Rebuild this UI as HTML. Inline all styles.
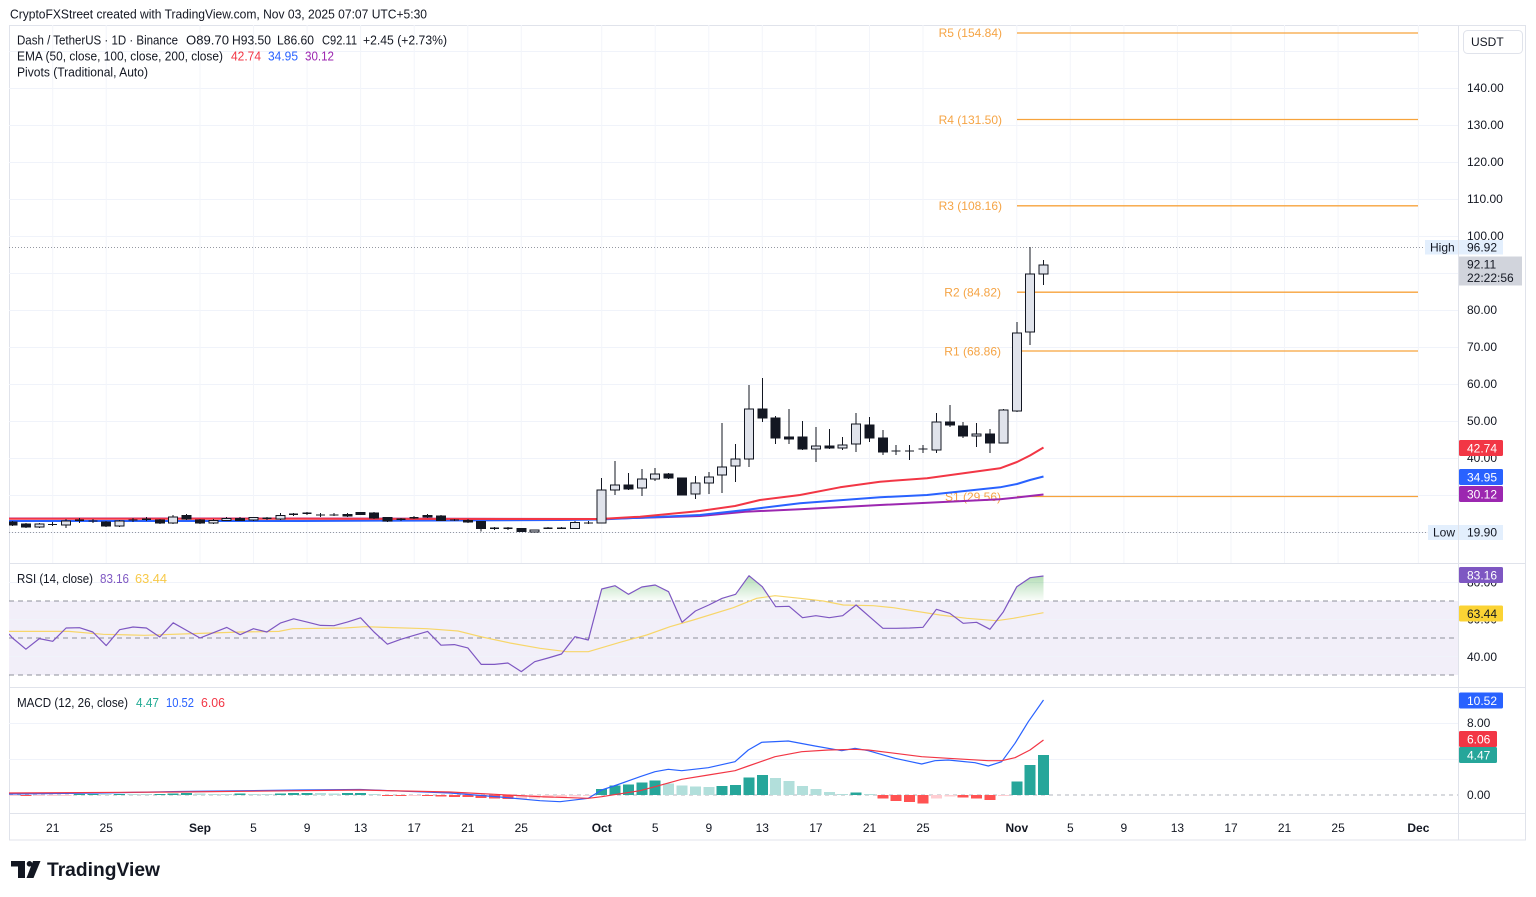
<!DOCTYPE html>
<html>
<head>
<meta charset="utf-8">
<style>
html,body{margin:0;padding:0;background:#fff;}
body{width:1536px;height:897px;overflow:hidden;}
svg{display:block;font-family:"Liberation Sans",Arial,sans-serif;}
.ax{font-size:12px;fill:#131722;}
.lg{font-size:12.5px;fill:#131722;}
</style>
</head>
<body>
<svg width="1536" height="897" viewBox="0 0 1536 897" xmlns="http://www.w3.org/2000/svg">
<defs>
  <clipPath id="cMain"><rect x="9" y="25" width="1449" height="538"/></clipPath>
  <clipPath id="cRsi"><rect x="9" y="564" width="1449" height="122"/></clipPath>
  <clipPath id="cRsiTop"><rect x="9" y="564" width="1449" height="37"/></clipPath>
  <clipPath id="cMacd"><rect x="9" y="688" width="1449" height="126"/></clipPath>
  <linearGradient id="gGreen" gradientUnits="userSpaceOnUse" x1="0" y1="574" x2="0" y2="601">
    <stop offset="0" stop-color="#4caf50" stop-opacity="0.45"/>
    <stop offset="1" stop-color="#4caf50" stop-opacity="0.02"/>
  </linearGradient>
</defs>

<!-- Title -->
<text x="10" y="18.5" font-size="13" fill="#131722" textLength="417" lengthAdjust="spacingAndGlyphs">CryptoFXStreet created with TradingView.com, Nov 03, 2025 07:07 UTC+5:30</text>

<!-- Frame -->
<rect x="9.5" y="25.5" width="1516" height="814.5" fill="#fff" stroke="#e0e3eb"/>

<!-- ================= MAIN PANE ================= -->
<g clip-path="url(#cMain)">
  <!-- horizontal grid -->
  <g stroke="#f0f3fa" stroke-width="1">
    <line x1="9" y1="51.5" x2="1458" y2="51.5"/>
    <line x1="9" y1="88.5" x2="1458" y2="88.5"/>
    <line x1="9" y1="125.5" x2="1458" y2="125.5"/>
    <line x1="9" y1="162.5" x2="1458" y2="162.5"/>
    <line x1="9" y1="199.5" x2="1458" y2="199.5"/>
    <line x1="9" y1="236.5" x2="1458" y2="236.5"/>
    <line x1="9" y1="273.5" x2="1458" y2="273.5"/>
    <line x1="9" y1="310.5" x2="1458" y2="310.5"/>
    <line x1="9" y1="347.5" x2="1458" y2="347.5"/>
    <line x1="9" y1="384.5" x2="1458" y2="384.5"/>
    <line x1="9" y1="421.5" x2="1458" y2="421.5"/>
    <line x1="9" y1="458.5" x2="1458" y2="458.5"/>
    <line x1="9" y1="495.5" x2="1458" y2="495.5"/>
    <line x1="9" y1="532.5" x2="1458" y2="532.5"/>
  </g>
  <!-- vertical grid -->
  <g stroke="#f3f5fa" stroke-width="1">
    <line x1="52.7" y1="25" x2="52.7" y2="563"/><line x1="106.2" y1="25" x2="106.2" y2="563"/>
    <line x1="200" y1="25" x2="200" y2="563"/><line x1="253.5" y1="25" x2="253.5" y2="563"/>
    <line x1="307.1" y1="25" x2="307.1" y2="563"/><line x1="360.6" y1="25" x2="360.6" y2="563"/>
    <line x1="414.2" y1="25" x2="414.2" y2="563"/><line x1="467.8" y1="25" x2="467.8" y2="563"/>
    <line x1="521.3" y1="25" x2="521.3" y2="563"/><line x1="601.7" y1="25" x2="601.7" y2="563"/>
    <line x1="655.2" y1="25" x2="655.2" y2="563"/><line x1="708.8" y1="25" x2="708.8" y2="563"/>
    <line x1="762.3" y1="25" x2="762.3" y2="563"/><line x1="815.9" y1="25" x2="815.9" y2="563"/>
    <line x1="869.5" y1="25" x2="869.5" y2="563"/><line x1="923" y1="25" x2="923" y2="563"/>
    <line x1="1016.8" y1="25" x2="1016.8" y2="563"/><line x1="1070.3" y1="25" x2="1070.3" y2="563"/>
    <line x1="1123.9" y1="25" x2="1123.9" y2="563"/><line x1="1177.4" y1="25" x2="1177.4" y2="563"/>
    <line x1="1231" y1="25" x2="1231" y2="563"/><line x1="1284.5" y1="25" x2="1284.5" y2="563"/>
    <line x1="1338.1" y1="25" x2="1338.1" y2="563"/><line x1="1418.4" y1="25" x2="1418.4" y2="563"/>
  </g>

  <!-- High / Low dotted lines -->
  <line x1="9" y1="247.5" x2="1425" y2="247.5" stroke="#9598a1" stroke-width="1" stroke-dasharray="1 2"/>
  <line x1="9" y1="532.5" x2="1428" y2="532.5" stroke="#9598a1" stroke-width="1" stroke-dasharray="1 2"/>

  <!-- Pivot lines -->
  <g stroke="#f7a33c" stroke-width="1.3">
    <line x1="1017" y1="33" x2="1418" y2="33"/>
    <line x1="1017" y1="119.5" x2="1418" y2="119.5"/>
    <line x1="1017" y1="205.8" x2="1418" y2="205.8"/>
    <line x1="1017" y1="292.2" x2="1418" y2="292.2"/>
    <line x1="1017" y1="351" x2="1418" y2="351"/>
    <line x1="1017" y1="496.5" x2="1418" y2="496.5"/>
  </g>
  <g font-size="12" fill="#f5a445" text-anchor="end">
    <text x="1002" y="37">R5 (154.84)</text>
    <text x="1002" y="124">R4 (131.50)</text>
    <text x="1002" y="210">R3 (108.16)</text>
    <text x="1001" y="296.5">R2 (84.82)</text>
    <text x="1001" y="355.5">R1 (68.86)</text>
    <text x="1001" y="501">S1 (29.56)</text>
  </g>

  <!-- EMA lines -->
  <polyline fill="none" stroke="#9c27b0" stroke-width="2" stroke-linejoin="round" points="9,518.5 300,518.5 600,519 700,516 745,511.7 800,509.3 880,505 1000,499.3 1017,497.5 1030,496 1043.5,494.5"/>
  <polyline fill="none" stroke="#2962ff" stroke-width="2" stroke-linejoin="round" points="9,521 300,521 560,520 600,519.5 640,517.7 700,515 745,510 800,503.3 880,497.3 927,495 1000,487.3 1017,484 1030,480 1043.5,476.5"/>
  <polyline fill="none" stroke="#f23645" stroke-width="2" stroke-linejoin="round" points="9,518.8 300,518.8 560,519 600,519 640,516.7 700,511 735,506 760,500 800,495 840,487.3 880,481.7 927,478.3 1000,468.3 1017,462 1030,455.5 1043.5,447.5"/>

  <!-- Candles -->
  <g shape-rendering="crispEdges">
    <path fill="none" stroke="#131722" stroke-width="1" d="M12.5 521V526M25.9 523V528M39.3 523V528M52.7 522V526M66.1 519V528M79.5 518V523M92.8 519V523M106.2 521V527M119.6 520V527M133 518V522M146.4 517V521M159.8 519V524M173.2 515V524M186.6 514V520M200 519V524M213.4 519V524M226.7 517V521M240.1 517V521M253.5 517V521M266.9 517V520M280.3 513V520M293.7 513V516M307.1 512V515M320.5 513V517M333.9 513V516M347.3 513V517M360.6 512V515M374 512V519M387.4 517V522M400.8 518V521M414.2 516V519M427.6 514V518M441 515V521M454.4 519V521M467.8 519V523M481.2 521V531.7M494.5 527V530M507.9 527V530M521.3 528V532M534.7 529.5V532.5M548.1 527V529M561.5 527V529M574.9 521V529M588.3 521V524M601.7 478V523M615.1 461V495M628.4 473V490M641.8 469V496M655.2 468V481M668.6 473V479M682 478V495M695.4 476V499M708.8 472V494M722.2 423V493M735.6 444V482M749 385V467M762.3 378V422M775.7 416V444M789.1 409V444M802.5 421V450M815.9 427V462M829.3 429V449M842.7 437V450M856.1 413V452M869.5 417V442M882.9 430V455M896.2 445V455M909.6 445V460M923 445V453M936.4 413V453M949.8 405V427M963.2 422V438M976.6 423V447M990 429V453M1003.4 409V443M1016.8 322V412M1030.1 247V345M1043.5 260V285"/>
    <!-- doji -->
    <path fill="none" stroke="#131722" stroke-width="1.2" d="M48.2 524.5H57.2M75 520.3H84M88.3 521H97.3M128.5 520H137.5M141.9 519.3H150.9M262.4 518.3H271.4M289.2 514.3H298.2M302.6 513.3H311.6M316 515H325M329.4 515H338.4M396.3 519.3H405.3M409.7 517.7H418.7M449.9 520H458.9M490 528.3H499M503.4 528.3H512.4M543.6 528.3H552.6M557 528.3H566M583.8 523H592.8M891.7 451H900.7M905.1 451H914.1M918.5 449H927.5"/>
    <!-- black bodies -->
    <g fill="#131722" stroke="#131722" stroke-width="1">
      <rect x="8" y="522" width="9" height="3"/>
      <rect x="21.4" y="524" width="9" height="3"/>
      <rect x="101.7" y="522" width="9" height="4"/>
      <rect x="155.3" y="520" width="9" height="3"/>
      <rect x="182.1" y="515.5" width="9" height="3.5"/>
      <rect x="195.5" y="520" width="9" height="3"/>
      <rect x="235.6" y="518.5" width="9" height="2"/>
      <rect x="342.8" y="514.3" width="9" height="1.7"/>
      <rect x="356.1" y="512.7" width="9" height="2"/>
      <rect x="369.5" y="513" width="9" height="5"/>
      <rect x="382.9" y="517.5" width="9" height="3.5"/>
      <rect x="423.1" y="515.3" width="9" height="1.7"/>
      <rect x="436.5" y="516" width="9" height="4.3"/>
      <rect x="463.3" y="520.3" width="9" height="1.7"/>
      <rect x="476.7" y="521.7" width="9" height="6.6"/>
      <rect x="516.8" y="528.7" width="9" height="3"/>
      <rect x="623.9" y="485" width="9" height="4"/>
      <rect x="664.1" y="474" width="9" height="4"/>
      <rect x="677.5" y="478" width="9" height="17"/>
      <rect x="757.8" y="409" width="9" height="9"/>
      <rect x="771.2" y="418" width="9" height="20"/>
      <rect x="784.6" y="437" width="9" height="2"/>
      <rect x="798" y="437" width="9" height="12"/>
      <rect x="824.8" y="446" width="9" height="2"/>
      <rect x="865" y="425" width="9" height="13"/>
      <rect x="878.4" y="438" width="9" height="14"/>
      <rect x="945.3" y="422" width="9" height="3"/>
      <rect x="958.7" y="426" width="9" height="10"/>
      <rect x="985.5" y="434" width="9" height="9"/>
    </g>
    <!-- white bodies -->
    <g fill="#e0e3eb" stroke="#131722" stroke-width="1">
      <rect x="34.8" y="524" width="9" height="3"/>
      <rect x="61.6" y="521" width="9" height="4"/>
      <rect x="115.1" y="521" width="9" height="5"/>
      <rect x="168.7" y="517" width="9" height="6"/>
      <rect x="208.9" y="520.5" width="9" height="2.5"/>
      <rect x="222.2" y="518.5" width="9" height="2"/>
      <rect x="249" y="517.7" width="9" height="2.3"/>
      <rect x="275.8" y="515.3" width="9" height="3.7"/>
      <rect x="530.2" y="530" width="9" height="2"/>
      <rect x="570.4" y="522.7" width="9" height="5.6"/>
      <rect x="597.2" y="490" width="9" height="33"/>
      <rect x="610.6" y="485" width="9" height="5"/>
      <rect x="637.3" y="479" width="9" height="9"/>
      <rect x="650.7" y="474" width="9" height="5"/>
      <rect x="690.9" y="483" width="9" height="11"/>
      <rect x="704.3" y="477" width="9" height="6"/>
      <rect x="717.7" y="467" width="9" height="8"/>
      <rect x="731.1" y="459" width="9" height="7"/>
      <rect x="744.5" y="409" width="9" height="50"/>
      <rect x="811.4" y="446" width="9" height="3"/>
      <rect x="838.2" y="445" width="9" height="3"/>
      <rect x="851.6" y="424" width="9" height="20"/>
      <rect x="931.9" y="422" width="9" height="28"/>
      <rect x="972.1" y="434" width="9" height="2"/>
      <rect x="998.9" y="410" width="9" height="33"/>
      <rect x="1012.3" y="333" width="9" height="78"/>
      <rect x="1025.6" y="274" width="9" height="58"/>
      <rect x="1039" y="265" width="9" height="9"/>
    </g>
  </g>
</g>

<!-- Legend main -->
<text class="lg" x="17" y="44.5" textLength="161" lengthAdjust="spacingAndGlyphs">Dash / TetherUS · 1D · Binance</text>
<text class="lg" x="186" y="44.5" textLength="43" lengthAdjust="spacingAndGlyphs">O89.70</text>
<text class="lg" x="232" y="44.5" textLength="39" lengthAdjust="spacingAndGlyphs">H93.50</text>
<text class="lg" x="277" y="44.5" textLength="37" lengthAdjust="spacingAndGlyphs">L86.60</text>
<text class="lg" x="322" y="44.5" textLength="35" lengthAdjust="spacingAndGlyphs">C92.11</text>
<text class="lg" x="363" y="44.5" textLength="84" lengthAdjust="spacingAndGlyphs">+2.45 (+2.73%)</text>
<text class="lg" x="17" y="60.5" textLength="206" lengthAdjust="spacingAndGlyphs">EMA (50, close, 100, close, 200, close)</text>
<text class="lg" x="231" y="60.5" fill="#f23645" style="fill:#f23645" textLength="30" lengthAdjust="spacingAndGlyphs">42.74</text>
<text class="lg" x="268" y="60.5" style="fill:#2962ff" textLength="30" lengthAdjust="spacingAndGlyphs">34.95</text>
<text class="lg" x="305" y="60.5" style="fill:#9c27b0" textLength="29" lengthAdjust="spacingAndGlyphs">30.12</text>
<text class="lg" x="17" y="76.5" textLength="131" lengthAdjust="spacingAndGlyphs">Pivots (Traditional, Auto)</text>

<!-- ================= RSI PANE ================= -->
<line x1="9" y1="563.5" x2="1526" y2="563.5" stroke="#e0e3eb"/>
<g clip-path="url(#cRsi)">
  <rect x="9" y="601" width="1449" height="74" fill="#f2eff9"/>
  <g stroke="#f0f3fa">
    <line x1="9" y1="582.5" x2="1458" y2="582.5"/>
    <line x1="9" y1="619.5" x2="1458" y2="619.5"/>
    <line x1="9" y1="656.5" x2="1458" y2="656.5"/>
  </g>
  <g stroke="#8f929b" stroke-width="1" stroke-dasharray="5 4">
    <line x1="9" y1="601" x2="1458" y2="601"/>
    <line x1="9" y1="638" x2="1458" y2="638"/>
    <line x1="9" y1="675" x2="1458" y2="675"/>
  </g>
  <g clip-path="url(#cRsiTop)">
    <polygon fill="url(#gGreen)" points="12.5,638 25.9,649.2 39.3,638.6 52.7,641.3 66.1,628 79.5,627.7 92.8,632 106.2,645.6 119.6,629.7 133,627 146.4,628 159.8,637 173.2,622.8 186.6,630.4 200,638 213.4,632.7 226.7,627.4 240.1,634.7 253.5,628.7 266.9,632 280.3,623.1 293.7,618.8 307.1,622.1 320.5,625.4 333.9,625.7 347.3,622.1 360.6,617.8 374,632 387.4,644.2 400.8,639.3 414.2,635.3 427.6,631.4 441,645.2 454.4,644.6 467.8,647.9 481.2,664.4 494.5,664.4 507.9,663 521.3,671.6 534.7,661.7 548.1,658 561.5,654 574.9,636.7 588.3,640 601.7,589 615.1,585.7 628.4,594.3 641.8,587 655.2,585 668.6,591.7 682,622.3 695.4,611 708.8,605 722.2,598.3 735.6,594.3 749,575.7 762.3,586.7 775.7,606.7 789.1,606.3 802.5,617.7 815.9,615.7 829.3,617.7 842.7,615.7 856.1,605 869.5,616.7 882.9,628.3 896.2,628.3 909.6,628 923,627.3 936.4,609.3 949.8,613.3 963.2,623.3 976.6,622.3 990,629.3 1003.4,611.7 1016.8,586.7 1030.1,577.7 1043.5,576 1043.5,601 12.5,601"/>
  </g>
  <polyline fill="none" stroke="#f7d66a" stroke-width="1.2" stroke-linejoin="round" points="9,631.4 68.9,631.4 103.3,634.3 144.6,635.3 192.8,633.6 241,632 278.9,631.4 292.7,628.7 344.4,628 365,626.7 427,628.7 458,631 482,637 510,643 540,648.3 566.7,651.7 588.3,651.7 620,642.3 646.7,635 670,626.7 693.3,620 733.3,607.7 756.7,598.3 775,595.7 800,598.3 823.3,601 843.3,605 873.3,605.7 893.3,607.7 940,615 966.7,618.3 996.7,620.7 1013.3,618.3 1043.5,612.7"/>
  <polyline fill="none" stroke="#7e57c2" stroke-width="1.2" stroke-linejoin="round" points="9,634 12.5,638 25.9,649.2 39.3,638.6 52.7,641.3 66.1,628 79.5,627.7 92.8,632 106.2,645.6 119.6,629.7 133,627 146.4,628 159.8,637 173.2,622.8 186.6,630.4 200,638 213.4,632.7 226.7,627.4 240.1,634.7 253.5,628.7 266.9,632 280.3,623.1 293.7,618.8 307.1,622.1 320.5,625.4 333.9,625.7 347.3,622.1 360.6,617.8 374,632 387.4,644.2 400.8,639.3 414.2,635.3 427.6,631.4 441,645.2 454.4,644.6 467.8,647.9 481.2,664.4 494.5,664.4 507.9,663 521.3,671.6 534.7,661.7 548.1,658 561.5,654 574.9,636.7 588.3,640 601.7,589 615.1,585.7 628.4,594.3 641.8,587 655.2,585 668.6,591.7 682,622.3 695.4,611 708.8,605 722.2,598.3 735.6,594.3 749,575.7 762.3,586.7 775.7,606.7 789.1,606.3 802.5,617.7 815.9,615.7 829.3,617.7 842.7,615.7 856.1,605 869.5,616.7 882.9,628.3 896.2,628.3 909.6,628 923,627.3 936.4,609.3 949.8,613.3 963.2,623.3 976.6,622.3 990,629.3 1003.4,611.7 1016.8,586.7 1030.1,577.7 1043.5,576"/>
</g>
<text class="lg" x="17" y="583" textLength="76" lengthAdjust="spacingAndGlyphs">RSI (14, close)</text>
<text class="lg" x="100" y="583" style="fill:#7e57c2" textLength="29" lengthAdjust="spacingAndGlyphs">83.16</text>
<text class="lg" x="135" y="583" style="fill:#f7c948" textLength="32" lengthAdjust="spacingAndGlyphs">63.44</text>

<!-- ================= MACD PANE ================= -->
<line x1="9" y1="687.5" x2="1526" y2="687.5" stroke="#e0e3eb"/>
<g clip-path="url(#cMacd)">
  <g stroke="#f0f3fa">
    <line x1="9" y1="723.5" x2="1458" y2="723.5"/>
    <line x1="9" y1="759.5" x2="1458" y2="759.5"/>
  </g>
  <line x1="9" y1="795" x2="1458" y2="795" stroke="#b2b5be" stroke-dasharray="4 4"/>
  <!-- histogram -->
  <g shape-rendering="crispEdges">
    <g fill="#ffcdd2">
      <rect x="9" y="795" width="9" height="1"/>
      <rect x="33.8" y="795" width="11" height="1"/>
      <rect x="47.2" y="795" width="11" height="1"/>
      <rect x="60.6" y="795" width="11" height="1"/>
      <rect x="408.7" y="795" width="11" height="1"/>
      <rect x="515.8" y="795" width="11" height="4"/>
      <rect x="529.2" y="795" width="11" height="3.5"/>
      <rect x="542.6" y="795" width="11" height="3"/>
      <rect x="556" y="795" width="11" height="2"/>
      <rect x="569.4" y="795" width="11" height="1.5"/>
      <rect x="582.8" y="795" width="11" height="1"/>
      <rect x="930.9" y="795" width="11" height="3.7"/>
      <rect x="944.3" y="795" width="11" height="1.7"/>
      <rect x="997.9" y="795" width="11" height="1.2"/>
    </g>
    <g fill="#ff5252">
      <rect x="20.4" y="795" width="11" height="1"/>
      <rect x="381.9" y="795" width="11" height="1"/>
      <rect x="395.3" y="795" width="11" height="1"/>
      <rect x="422.1" y="795" width="11" height="1"/>
      <rect x="435.5" y="795" width="11" height="1.5"/>
      <rect x="448.9" y="795" width="11" height="2"/>
      <rect x="462.3" y="795" width="11" height="2"/>
      <rect x="475.7" y="795" width="11" height="3"/>
      <rect x="489" y="795" width="11" height="3.5"/>
      <rect x="502.4" y="795" width="11" height="4"/>
      <rect x="877.4" y="795" width="11" height="3.3"/>
      <rect x="890.7" y="795" width="11" height="6"/>
      <rect x="904.1" y="795" width="11" height="7"/>
      <rect x="917.5" y="795" width="11" height="8.3"/>
      <rect x="957.7" y="795" width="11" height="2.7"/>
      <rect x="971.1" y="795" width="11" height="3.3"/>
      <rect x="984.5" y="795" width="11" height="5"/>
    </g>
    <g fill="#26a69a">
      <rect x="74" y="794" width="11" height="1"/>
      <rect x="87.3" y="794" width="11" height="1"/>
      <rect x="114.1" y="794" width="11" height="1"/>
      <rect x="154.3" y="794" width="11" height="1"/>
      <rect x="167.7" y="793.5" width="11" height="1.5"/>
      <rect x="181.1" y="793" width="11" height="2"/>
      <rect x="234.6" y="793.5" width="11" height="1.5"/>
      <rect x="274.8" y="793.5" width="11" height="1.5"/>
      <rect x="288.2" y="793" width="11" height="2"/>
      <rect x="301.6" y="793" width="11" height="2"/>
      <rect x="341.8" y="793" width="11" height="2"/>
      <rect x="355.1" y="793" width="11" height="2"/>
      <rect x="596.2" y="789" width="11" height="6"/>
      <rect x="609.6" y="785.7" width="11" height="9.3"/>
      <rect x="622.9" y="784.3" width="11" height="10.7"/>
      <rect x="636.3" y="782.3" width="11" height="12.7"/>
      <rect x="649.7" y="780.7" width="11" height="14.3"/>
      <rect x="716.7" y="786" width="11" height="9"/>
      <rect x="730.1" y="785" width="11" height="10"/>
      <rect x="743.5" y="777.7" width="11" height="17.3"/>
      <rect x="756.8" y="775" width="11" height="20"/>
      <rect x="850.6" y="792.3" width="11" height="2.7"/>
      <rect x="1011.3" y="781.7" width="11" height="13.3"/>
      <rect x="1024.6" y="765" width="11" height="30"/>
      <rect x="1038" y="755" width="11" height="40"/>
    </g>
    <g fill="#b2dfdb">
      <rect x="100.7" y="794" width="11" height="1"/>
      <rect x="127.5" y="794" width="11" height="1"/>
      <rect x="140.9" y="794" width="11" height="1"/>
      <rect x="194.5" y="793.5" width="11" height="1.5"/>
      <rect x="207.9" y="794" width="11" height="1"/>
      <rect x="221.2" y="794" width="11" height="1"/>
      <rect x="248" y="794" width="11" height="1"/>
      <rect x="261.4" y="794" width="11" height="1"/>
      <rect x="315" y="793" width="11" height="2"/>
      <rect x="328.4" y="793.5" width="11" height="1.5"/>
      <rect x="368.5" y="794" width="11" height="1"/>
      <rect x="663.1" y="783.3" width="11" height="11.7"/>
      <rect x="676.5" y="785.7" width="11" height="9.3"/>
      <rect x="689.9" y="786.7" width="11" height="8.3"/>
      <rect x="703.3" y="787" width="11" height="8"/>
      <rect x="770.2" y="778" width="11" height="17"/>
      <rect x="783.6" y="781" width="11" height="14"/>
      <rect x="797" y="786" width="11" height="9"/>
      <rect x="810.4" y="789" width="11" height="6"/>
      <rect x="823.8" y="792" width="11" height="3"/>
      <rect x="837.2" y="794" width="11" height="1"/>
      <rect x="864" y="794" width="11" height="1"/>
    </g>
  </g>
  <polyline fill="none" stroke="#2962ff" stroke-width="1.2" stroke-linejoin="round" points="9,794 100,793 180,791.5 300,790 360,789.5 450,793 500,797 540,800.7 560,801.7 588.3,798.3 601.7,790 616.7,785 640,776.7 655,771.7 668.3,769.3 681.7,770.7 708.3,767.7 735,761.7 748.3,750 761.7,742.3 788.3,741 815,746 841.7,750.7 855,748.3 868.3,750.7 895,758.3 921.7,764 935,760.7 948.3,760 975,762.7 988.3,766 1001.7,761.7 1015,743.3 1028.3,721.7 1043.5,700"/>
  <polyline fill="none" stroke="#f23645" stroke-width="1.2" stroke-linejoin="round" points="9,793 180,792 360,790 450,792 540,796.7 588.3,798.3 601.7,796.7 616.7,794.3 640,790.7 655,786.7 681.7,779.3 708.3,775 735,770.7 748.3,766 775,756.7 801.7,751.7 828.3,750 855,749.3 868.3,750 895,753.3 921.7,756.7 948.3,758.3 988.3,760.7 1001.7,760.7 1015,757.7 1030,750 1043.5,740"/>
</g>
<text class="lg" x="17" y="707" textLength="111" lengthAdjust="spacingAndGlyphs">MACD (12, 26, close)</text>
<text class="lg" x="136" y="707" style="fill:#22ab94" textLength="23" lengthAdjust="spacingAndGlyphs">4.47</text>
<text class="lg" x="166" y="707" style="fill:#2962ff" textLength="28" lengthAdjust="spacingAndGlyphs">10.52</text>
<text class="lg" x="201" y="707" style="fill:#f23645" textLength="24" lengthAdjust="spacingAndGlyphs">6.06</text>

<!-- ================= TIME AXIS ================= -->
<line x1="9" y1="813.5" x2="1526" y2="813.5" stroke="#e0e3eb"/>
<line x1="1458.5" y1="25" x2="1458.5" y2="840" stroke="#e0e3eb"/>
<g class="ax" text-anchor="middle">
  <text x="52.7" y="832">21</text>
  <text x="106.2" y="832">25</text>
  <text x="200" y="832" font-weight="bold">Sep</text>
  <text x="253.5" y="832">5</text>
  <text x="307.1" y="832">9</text>
  <text x="360.6" y="832">13</text>
  <text x="414.2" y="832">17</text>
  <text x="467.8" y="832">21</text>
  <text x="521.3" y="832">25</text>
  <text x="601.7" y="832" font-weight="bold">Oct</text>
  <text x="655.2" y="832">5</text>
  <text x="708.8" y="832">9</text>
  <text x="762.3" y="832">13</text>
  <text x="815.9" y="832">17</text>
  <text x="869.5" y="832">21</text>
  <text x="923" y="832">25</text>
  <text x="1016.8" y="832" font-weight="bold">Nov</text>
  <text x="1070.3" y="832">5</text>
  <text x="1123.9" y="832">9</text>
  <text x="1177.4" y="832">13</text>
  <text x="1231" y="832">17</text>
  <text x="1284.5" y="832">21</text>
  <text x="1338.1" y="832">25</text>
  <text x="1418.4" y="832" font-weight="bold">Dec</text>
</g>

<!-- ================= PRICE AXIS ================= -->
<rect x="1463.5" y="30.5" width="59" height="23" rx="4" fill="#fff" stroke="#e0e3eb"/>
<text class="ax" x="1471" y="46">USDT</text>
<g class="ax">
  <text x="1467" y="92">140.00</text>
  <text x="1467" y="129">130.00</text>
  <text x="1467" y="166">120.00</text>
  <text x="1467" y="203">110.00</text>
  <text x="1467" y="240">100.00</text>
  <text x="1467" y="314">80.00</text>
  <text x="1467" y="351">70.00</text>
  <text x="1467" y="388">60.00</text>
  <text x="1467" y="425">50.00</text>
  <text x="1467" y="462">40.00</text>
  <text x="1467" y="586.5">80.00</text>
  <text x="1467" y="623.5">60.00</text>
  <text x="1467" y="661">40.00</text>
  <text x="1467" y="727">8.00</text>
  <text x="1467" y="763">4.00</text>
  <text x="1467" y="799">0.00</text>
</g>
<!-- High -->
<rect x="1425" y="240" width="33" height="14.5" fill="#e3effd"/>
<text class="ax" x="1430" y="251.5">High</text>
<rect x="1459" y="240" width="44" height="14.5" fill="#e3effd"/>
<text class="ax" x="1467" y="251.5">96.92</text>
<!-- Last price -->
<rect x="1459" y="256.5" width="63" height="29" fill="#d1d4dc"/>
<text class="ax" x="1467" y="268.5">92.11</text>
<text class="ax" x="1467" y="282">22:22:56</text>
<!-- EMA labels -->
<rect x="1459" y="440" width="44" height="16" rx="1.5" fill="#f23645"/>
<text class="ax" x="1467" y="452.5" style="fill:#fff">42.74</text>
<rect x="1459" y="469" width="44" height="16" rx="1.5" fill="#2962ff"/>
<text class="ax" x="1467" y="481.5" style="fill:#fff">34.95</text>
<rect x="1459" y="486" width="44" height="16" rx="1.5" fill="#9c27b0"/>
<text class="ax" x="1467" y="498.5" style="fill:#fff">30.12</text>
<!-- Low -->
<rect x="1428" y="525" width="30" height="15" fill="#e3effd"/>
<text class="ax" x="1433" y="536.5">Low</text>
<rect x="1459" y="525" width="44" height="15" fill="#e3effd"/>
<text class="ax" x="1467" y="536.5">19.90</text>
<!-- RSI labels -->
<rect x="1459" y="567" width="44" height="16" rx="1.5" fill="#7e57c2"/>
<text class="ax" x="1467" y="579.5" style="fill:#fff">83.16</text>
<rect x="1459" y="605.5" width="44" height="16" rx="1.5" fill="#fbd334"/>
<text class="ax" x="1467" y="618">63.44</text>
<!-- MACD labels -->
<rect x="1459" y="692.5" width="44" height="16" rx="1.5" fill="#2962ff"/>
<text class="ax" x="1467" y="705" style="fill:#fff">10.52</text>
<rect x="1459" y="731" width="38" height="16" rx="1.5" fill="#f23645"/>
<text class="ax" x="1467" y="743.5" style="fill:#fff">6.06</text>
<rect x="1459" y="747" width="38" height="16" rx="1.5" fill="#26a69a"/>
<text class="ax" x="1467" y="759.5" style="fill:#fff">4.47</text>

<!-- ================= LOGO ================= -->
<g fill="#131722">
  <rect x="11" y="861" width="14" height="5.5"/>
  <rect x="18" y="861" width="7" height="17"/>
  <circle cx="29.5" cy="863.8" r="2.8"/>
  <polygon points="33,861 40.5,861 33.5,878 26.5,878"/>
</g>
<text x="47" y="876" font-size="19.5" font-weight="bold" fill="#131722" textLength="113" lengthAdjust="spacingAndGlyphs">TradingView</text>
</svg>
</body>
</html>
